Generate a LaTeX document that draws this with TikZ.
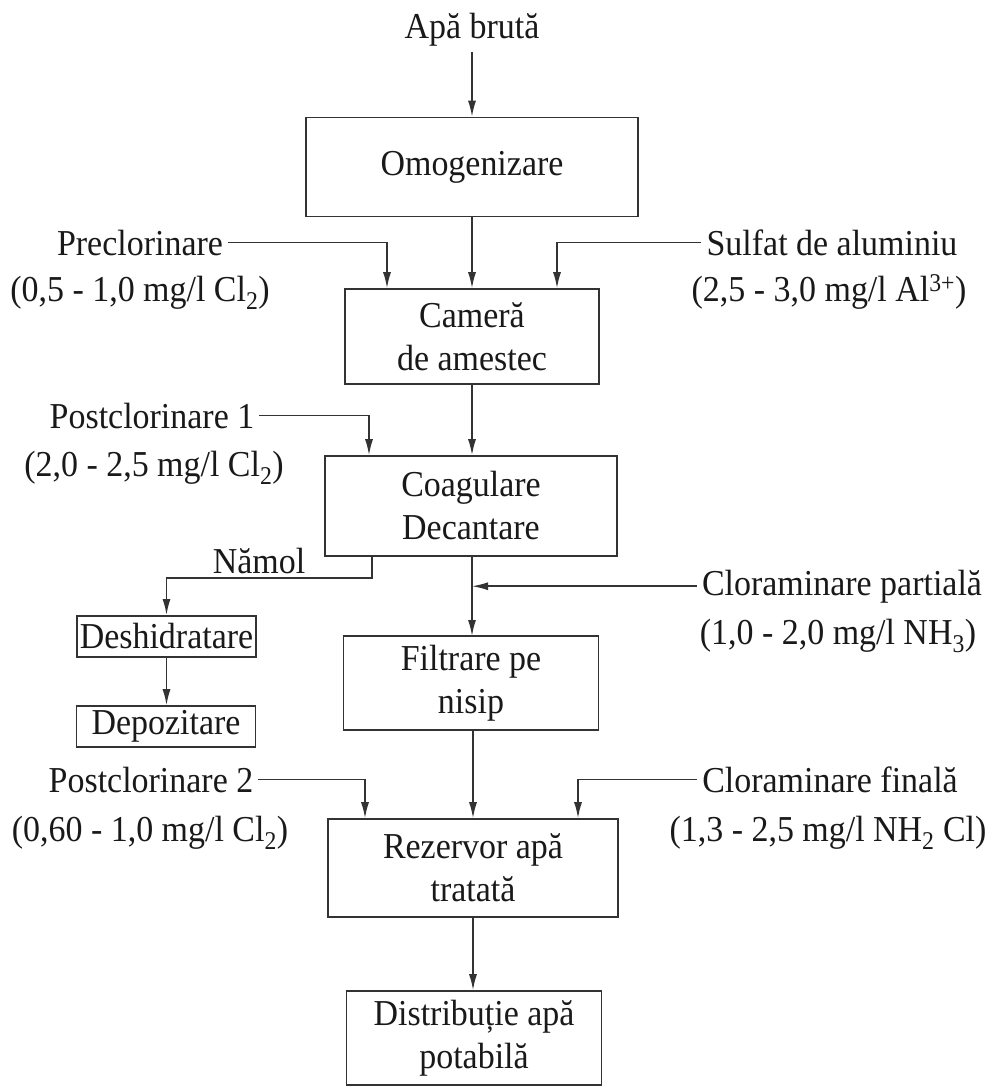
\documentclass[tikz,border=0pt]{standalone}
\usepackage{fontspec}
\setmainfont{Liberation Serif}[FakeStretch=0.93]
\usetikzlibrary{arrows.meta}
\begin{document}
\begin{tikzpicture}[x=1pt,y=-1pt,
  every node/.style={font=\fontsize{36.5}{43}\selectfont, text=black!90},
  box/.style={draw=black!80, line width=1.6pt, inner sep=0pt, align=center},
  lab/.style={anchor=base, inner sep=5pt},
  arr/.style={draw=black!80, line width=1.5pt, -{Latex[length=16pt,width=8pt]}},
  ln/.style={draw=black!80, line width=1.5pt}]
\useasboundingbox (0,0) rectangle (993,1086);
% main boxes
\node[lab] (raw) at (472,39) {Apă brută};
\node[box, minimum width=332pt, minimum height=99pt] (omog) at (472,167) {Omogenizare};
\node[box, minimum width=254pt, minimum height=95pt] (camera) at (472,336.5) {Cameră\\de amestec};
\node[box, minimum width=292pt, minimum height=100pt] (coag) at (471,506) {Coagulare\\Decantare};
\node[box, minimum width=255pt, minimum height=94pt] (filtr) at (471,683) {Filtrare pe\\nisip};
\node[box, minimum width=290pt, minimum height=98pt] (rez) at (473,868) {Rezervor apă\\tratată};
\node[box, minimum width=255pt, minimum height=94pt] (dist) at (474,1038) {Distribuție apă\\potabilă};
% sludge boxes
\node[box, line width=2pt, minimum width=179pt, minimum height=41pt] (desh) at (166.5,636.5) {Deshidratare};
\node[box, minimum width=179pt, minimum height=41pt] (depo) at (166,726.5) {Depozitare};
% labels
\node[lab] (precl) at (140,255) {Preclorinare};
\node[lab] (precl2) at (140,301) {(0,5 - 1,0 mg/l Cl\textsubscript{2})};
\node[lab] (sulf) at (832,255) {Sulfat de aluminiu};
\node[lab] (sulf2) at (829,301) {(2,5 - 3,0 mg/l Al\textsuperscript{3+})};
\node[lab] (post1) at (152,428) {Postclorinare 1};
\node[lab] (post1b) at (154,476) {(2,0 - 2,5 mg/l Cl\textsubscript{2})};
\node[lab, inner sep=0pt] (namol) at (259,573) {Nămol};
\node[lab] (clp) at (842,595) {Cloraminare partială};
\node[lab] (clp2) at (838,644) {(1,0 - 2,0 mg/l NH\textsubscript{3})};
\node[lab] (post2) at (151,792) {Postclorinare 2};
\node[lab] (post2b) at (150,841) {(0,60 - 1,0 mg/l Cl\textsubscript{2})};
\node[lab] (clf) at (830,792) {Cloraminare finală};
\node[lab] (clf2) at (828,841) {(1,3 - 2,5 mg/l NH\textsubscript{2} Cl)};
% coordinates
\coordinate (mA) at (472,556);
\coordinate (mB) at (472,636);
% main flow
\draw[arr] (raw.south) -- (omog.north);
\draw[arr] (omog.south) -- (camera.north);
\draw[arr] (camera.south) -- (coag.north -| camera.south);
\draw[arr] (mA) -- (mB);
\draw[arr] (filtr.south -| rez.north) -- (rez.north);
\draw[arr] (rez.south) -- (dist.north -| rez.south);
% dosing
\draw[arr] (precl.east) -| ([xshift=-85pt]camera.north);
\draw[arr] (sulf.west) -| ([xshift=85pt]camera.north);
\draw[arr] (post1.east) -| ([xshift=-102pt]coag.north);
\draw[arr] (clp.west) -- (clp.west -| mA);
\draw[arr] (post2.east) -| ([xshift=-108pt]rez.north);
\draw[arr] (clf.west) -| ([xshift=105pt]rez.north);
% sludge
\draw[arr] ([xshift=-99pt]coag.south) -- ++(0,21) -| (desh.north);
\draw[arr] (desh.south) -- (depo.north -| desh.south);
\end{tikzpicture}
\end{document}
